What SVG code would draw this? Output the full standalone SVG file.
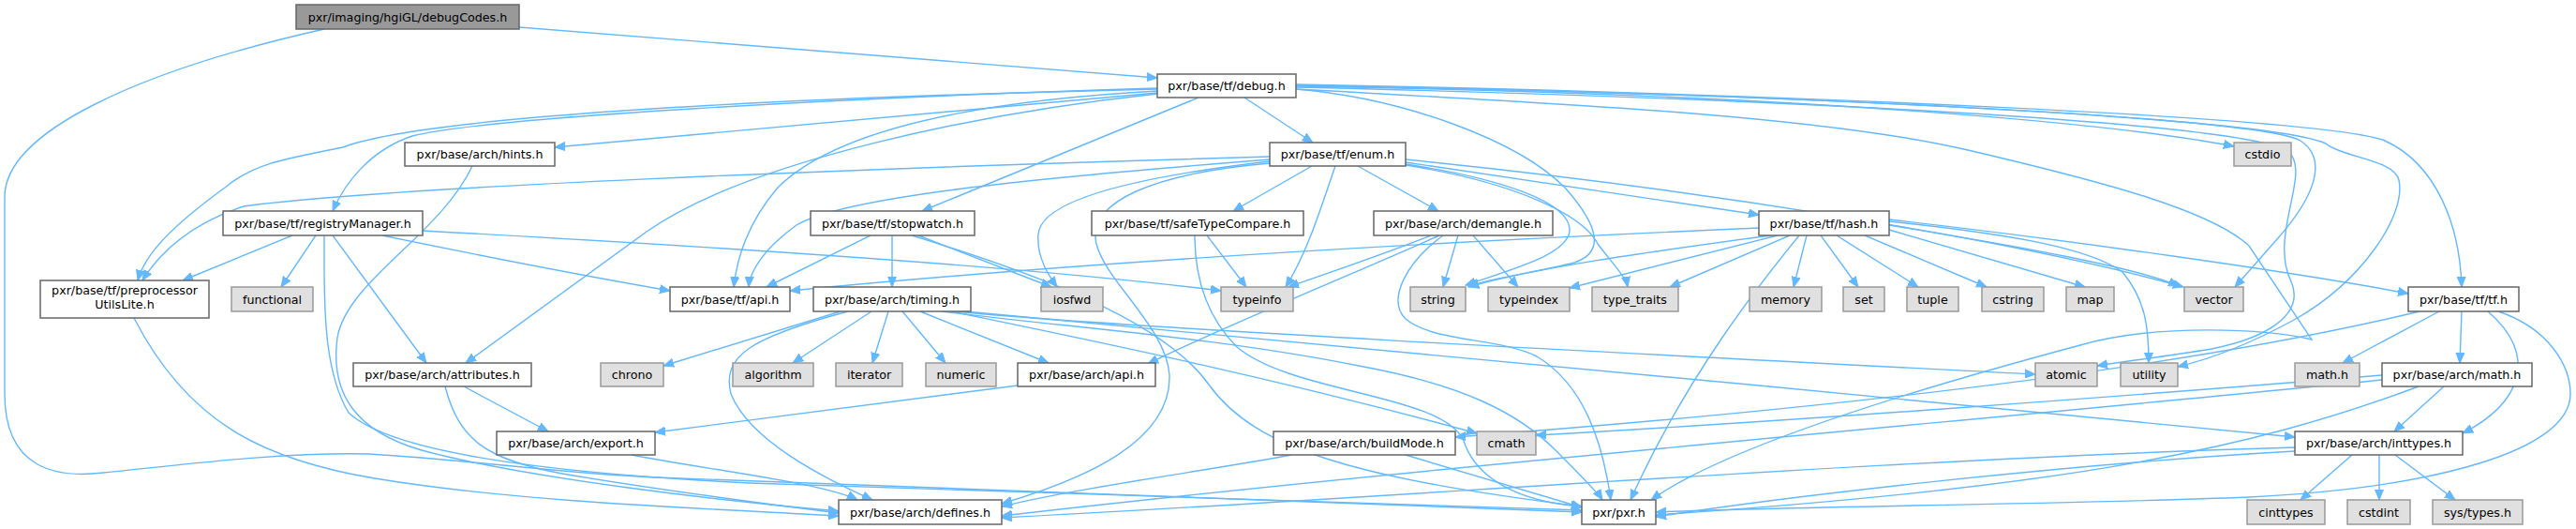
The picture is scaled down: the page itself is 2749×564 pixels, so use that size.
<svg xmlns="http://www.w3.org/2000/svg" width="2749" height="564" viewBox="0 0 2749 564">
<style>
.e{fill:none;stroke:#63b8ff;stroke-width:1.4;marker-end:url(#a)}
.n rect{fill:#fff;stroke:#666;stroke-width:1.5}
.g rect{fill:#e0e0e0;stroke:#999;stroke-width:1.5}
.r rect{fill:#999;stroke:#666;stroke-width:1.5}
text{font-family:"DejaVu Sans","Liberation Sans",sans-serif;font-size:12.7px;fill:#000;text-anchor:middle}
</style>
<defs>
<marker id="a" markerWidth="12" markerHeight="10" refX="11" refY="5" orient="auto" markerUnits="userSpaceOnUse"><path d="M0,0.5 L11,5 L0,9.5 z" fill="#63b8ff" stroke="#63b8ff" stroke-width="1"/></marker>
</defs>
<rect width="2749" height="564" fill="#fff"/>
<g id="edges">
<path class="e" d="M554,29 L1235,83"/>
<path class="e" d="M346,31 C150,75 5,140 5,210 L5,420 C5,500 60,510 110,504 C200,495 300,482 393,484 C500,490 600,505 700,509 C1000,520 1400,535 1688,546"/>
<path class="e" d="M1235,99 L592,157"/>
<path class="e" d="M1235,94 C900,104 520,125 440,145 C395,160 368,195 355,225"/>
<path class="e" d="M1235,95 C800,105 450,125 366,157 C300,170 270,175 240,200 C185,240 155,270 147,299"/>
<path class="e" d="M1235,100 C1050,120 800,170 690,247 L497,387"/>
<path class="e" d="M1235,97 C1000,110 880,150 830,200 C800,235 787,270 783,306"/>
<path class="e" d="M1279,104 L984,225"/>
<path class="e" d="M1328,104 L1401,152"/>
<path class="e" d="M1383,92 C1900,100 2250,130 2384,156"/>
<path class="e" d="M1383,90 C1900,100 2480,125 2545,150 C2600,175 2625,240 2627,306"/>
<path class="e" d="M1383,91 C1900,100 2410,125 2455,150 C2485,170 2470,210 2430,255 L2385,306"/>
<path class="e" d="M1383,91 C1900,100 2420,125 2482,153 C2500,168 2555,170 2560,192 C2568,230 2520,300 2450,340 C2410,362 2370,380 2324,391"/>
<path class="e" d="M1383,93 C1900,105 2380,130 2440,160 C2470,180 2420,250 2445,300 C2460,335 2420,360 2360,372 C2310,380 2270,385 2238,390"/>
<path class="e" d="M1383,95 C1700,112 1950,125 2100,160 C2250,195 2360,225 2400,262 L2467,362 C2420,350 2300,345 2220,368 C2100,400 1850,470 1762,533"/>
<path class="e" d="M1383,95 C1500,105 1620,150 1670,200 C1710,245 1710,270 1680,280 C1640,290 1600,295 1567,305"/>
<path class="e" d="M1355,167 C900,180 400,200 260,220 C200,240 170,270 152,299"/>
<path class="e" d="M1355,170 C1100,190 900,210 850,240 C815,265 800,290 799,306"/>
<path class="e" d="M1355,172 C1200,190 1110,215 1108,250 C1106,275 1120,295 1128,306"/>
<path class="e" d="M1355,174 C1230,185 1160,215 1170,260 C1180,300 1245,350 1248,400 C1250,470 1160,510 1069,537"/>
<path class="e" d="M1400,177 L1316,225"/>
<path class="e" d="M1449,177 L1535,225"/>
<path class="e" d="M1500,173 L1877,229"/>
<path class="e" d="M1500,175 C1600,190 1675,215 1675,245 C1675,270 1620,285 1564,304"/>
<path class="e" d="M1500,176 C1620,195 1690,230 1705,260 C1720,280 1735,295 1737,306"/>
<path class="e" d="M1500,170 C1800,200 2150,255 2330,306"/>
<path class="e" d="M1425,177 C1410,220 1395,270 1372,306"/>
<path class="e" d="M312,251 L195,299"/>
<path class="e" d="M337,251 L300,306"/>
<path class="e" d="M346,251 L346,282 C346,340 348,400 372,440 C420,485 600,505 800,515 C1200,530 1500,538 1688,544"/>
<path class="e" d="M355,251 L455,387"/>
<path class="e" d="M408,251 C500,270 600,290 715,310"/>
<path class="e" d="M451,246 C800,265 1100,285 1303,310"/>
<path class="e" d="M504,177 C470,250 370,300 360,360 C352,420 380,460 450,480 C560,510 780,535 895,545"/>
<path class="e" d="M495,412 L585,460"/>
<path class="e" d="M475,412 C490,470 520,490 600,505 C700,522 800,535 895,547"/>
<path class="e" d="M143,339 C200,450 280,490 400,510 C550,535 750,542 895,550"/>
<path class="e" d="M674,485 C750,500 880,515 915,533"/>
<path class="e" d="M1086,411 L699,461"/>
<path class="e" d="M929,251 L818,306"/>
<path class="e" d="M952,251 L952,306"/>
<path class="e" d="M980,251 L1122,306"/>
<path class="e" d="M973,251 C1100,290 1240,340 1290,410 C1340,480 1450,510 1688,540"/>
<path class="e" d="M897,332 L708,390"/>
<path class="e" d="M905,332 C800,360 770,380 780,420 C800,470 880,510 931,533"/>
<path class="e" d="M930,332 L846,387"/>
<path class="e" d="M948,332 L931,387"/>
<path class="e" d="M963,332 L1009,387"/>
<path class="e" d="M982,332 L1119,387"/>
<path class="e" d="M1020,332 C1200,350 1800,380 2172,399"/>
<path class="e" d="M1030,332 C1300,360 2000,420 2449,466"/>
<path class="e" d="M1015,332 C1150,360 1350,400 1576,462"/>
<path class="e" d="M1005,332 C1150,350 1300,360 1450,390 C1560,410 1620,440 1660,480 C1690,510 1705,525 1710,533"/>
<path class="e" d="M1288,251 L1330,306"/>
<path class="e" d="M1275,251 C1275,300 1290,340 1320,370 C1380,420 1540,420 1562,470 C1575,510 1620,535 1688,540"/>
<path class="e" d="M1527,251 C1480,270 1420,290 1375,306"/>
<path class="e" d="M1536,251 C1450,290 1300,350 1225,388"/>
<path class="e" d="M1540,251 C1500,280 1480,320 1500,340 C1530,365 1600,360 1640,380 C1690,410 1710,470 1719,533"/>
<path class="e" d="M1556,251 L1540,306"/>
<path class="e" d="M1572,251 L1620,306"/>
<path class="e" d="M1877,243 C1600,255 1200,275 843,310"/>
<path class="e" d="M1889,251 C1750,270 1640,285 1567,306"/>
<path class="e" d="M1897,251 L1675,307"/>
<path class="e" d="M1910,251 L1782,306"/>
<path class="e" d="M1920,251 C1880,300 1800,400 1740,533"/>
<path class="e" d="M1928,251 L1914,306"/>
<path class="e" d="M1943,251 L1983,306"/>
<path class="e" d="M1960,251 L2047,306"/>
<path class="e" d="M1990,251 L2120,306"/>
<path class="e" d="M2016,245 L2225,306"/>
<path class="e" d="M2016,240 C2150,262 2280,285 2325,305"/>
<path class="e" d="M2016,236 C2150,250 2230,265 2265,290 C2290,320 2293,350 2293,387"/>
<path class="e" d="M2016,234 C2200,255 2450,290 2570,313"/>
<path class="e" d="M2582,332 C2300,400 1900,440 1553,466"/>
<path class="e" d="M2666,332 C2720,350 2743,390 2743,420 C2743,480 2600,520 2400,530 C2200,538 1900,540 1767,546"/>
<path class="e" d="M2603,332 L2500,387"/>
<path class="e" d="M2627,332 L2625,387"/>
<path class="e" d="M2655,332 C2710,380 2690,430 2628,462"/>
<path class="e" d="M2608,412 L2555,460"/>
<path class="e" d="M2542,400 C2300,420 1900,450 1639,464"/>
<path class="e" d="M2542,405 C2200,440 1500,500 1069,550"/>
<path class="e" d="M2581,412 C2400,480 2200,520 1767,549"/>
<path class="e" d="M2510,485 L2455,533"/>
<path class="e" d="M2539,485 L2539,533"/>
<path class="e" d="M2556,485 L2620,533"/>
<path class="e" d="M2449,477 C2000,490 1500,530 1069,552"/>
<path class="e" d="M2449,481 C2200,495 1900,530 1767,551"/>
<path class="e" d="M1500,485 L1688,541"/>
<path class="e" d="M1378,485 C1300,500 1150,520 1069,540"/>
</g>
<g id="n0" class="r"><rect x="316" y="5" width="238" height="26"/><text x="435" y="22.5">pxr/imaging/hgiGL/debugCodes.h</text></g>
<g id="n1" class="n"><rect x="1235" y="79" width="148" height="25"/><text x="1309" y="96">pxr/base/tf/debug.h</text></g>
<g id="n2" class="n"><rect x="432" y="152" width="160" height="25"/><text x="512" y="169">pxr/base/arch/hints.h</text></g>
<g id="n3" class="n"><rect x="1355" y="152" width="145" height="25"/><text x="1427.5" y="169">pxr/base/tf/enum.h</text></g>
<g id="n4" class="g"><rect x="2384" y="152" width="61" height="25"/><text x="2414.5" y="169">cstdio</text></g>
<g id="n5" class="n"><rect x="238" y="225" width="213" height="26"/><text x="344.5" y="242.5">pxr/base/tf/registryManager.h</text></g>
<g id="n6" class="n"><rect x="865" y="225" width="175" height="26"/><text x="952.5" y="242.5">pxr/base/tf/stopwatch.h</text></g>
<g id="n7" class="n"><rect x="1165" y="225" width="226" height="26"/><text x="1278" y="242.5">pxr/base/tf/safeTypeCompare.h</text></g>
<g id="n8" class="n"><rect x="1466" y="225" width="191" height="26"/><text x="1561.5" y="242.5">pxr/base/arch/demangle.h</text></g>
<g id="n9" class="n"><rect x="1877" y="225" width="139" height="26"/><text x="1946.5" y="242.5">pxr/base/tf/hash.h</text></g>
<g id="n10" class="n"><rect x="43" y="299" width="180" height="40"/><text x="133" y="314">pxr/base/tf/preprocessor</text><text x="133" y="328.5">UtilsLite.h</text></g>
<g id="n11" class="g"><rect x="247" y="306" width="87" height="26"/><text x="290.5" y="323.5">functional</text></g>
<g id="n12" class="n"><rect x="715" y="306" width="128" height="26"/><text x="779" y="323.5">pxr/base/tf/api.h</text></g>
<g id="n13" class="n"><rect x="868" y="306" width="168" height="26"/><text x="952" y="323.5">pxr/base/arch/timing.h</text></g>
<g id="n14" class="g"><rect x="1111" y="306" width="66" height="26"/><text x="1144" y="323.5">iosfwd</text></g>
<g id="n15" class="g"><rect x="1303" y="306" width="77" height="26"/><text x="1341.5" y="323.5">typeinfo</text></g>
<g id="n16" class="g"><rect x="1505" y="306" width="59" height="26"/><text x="1534.5" y="323.5">string</text></g>
<g id="n17" class="g"><rect x="1588" y="306" width="87" height="26"/><text x="1631.5" y="323.5">typeindex</text></g>
<g id="n18" class="g"><rect x="1699" y="306" width="92" height="26"/><text x="1745" y="323.5">type_traits</text></g>
<g id="n19" class="g"><rect x="1867" y="306" width="77" height="26"/><text x="1905.5" y="323.5">memory</text></g>
<g id="n20" class="g"><rect x="1967" y="306" width="44" height="26"/><text x="1989" y="323.5">set</text></g>
<g id="n21" class="g"><rect x="2035" y="306" width="55" height="26"/><text x="2062.5" y="323.5">tuple</text></g>
<g id="n22" class="g"><rect x="2115" y="306" width="66" height="26"/><text x="2148" y="323.5">cstring</text></g>
<g id="n23" class="g"><rect x="2205" y="306" width="51" height="26"/><text x="2230.5" y="323.5">map</text></g>
<g id="n24" class="g"><rect x="2331" y="306" width="63" height="26"/><text x="2362.5" y="323.5">vector</text></g>
<g id="n25" class="n"><rect x="2570" y="306" width="118" height="26"/><text x="2629" y="323.5">pxr/base/tf/tf.h</text></g>
<g id="n26" class="n"><rect x="377" y="387" width="190" height="25"/><text x="472" y="404">pxr/base/arch/attributes.h</text></g>
<g id="n27" class="g"><rect x="641" y="387" width="67" height="25"/><text x="674.5" y="404">chrono</text></g>
<g id="n28" class="g"><rect x="782" y="387" width="86" height="25"/><text x="825" y="404">algorithm</text></g>
<g id="n29" class="g"><rect x="892" y="387" width="71" height="25"/><text x="927.5" y="404">iterator</text></g>
<g id="n30" class="g"><rect x="988" y="387" width="75" height="25"/><text x="1025.5" y="404">numeric</text></g>
<g id="n31" class="n"><rect x="1086" y="387" width="147" height="25"/><text x="1159.5" y="404">pxr/base/arch/api.h</text></g>
<g id="n32" class="g"><rect x="2172" y="387" width="66" height="25"/><text x="2205" y="404">atomic</text></g>
<g id="n33" class="g"><rect x="2263" y="387" width="61" height="25"/><text x="2293.5" y="404">utility</text></g>
<g id="n34" class="g"><rect x="2449" y="387" width="69" height="25"/><text x="2483.5" y="404">math.h</text></g>
<g id="n35" class="n"><rect x="2542" y="387" width="160" height="25"/><text x="2622" y="404">pxr/base/arch/math.h</text></g>
<g id="n36" class="n"><rect x="530" y="460" width="169" height="25"/><text x="614.5" y="477">pxr/base/arch/export.h</text></g>
<g id="n37" class="n"><rect x="1359" y="460" width="194" height="25"/><text x="1456" y="477">pxr/base/arch/buildMode.h</text></g>
<g id="n38" class="g"><rect x="1576" y="460" width="63" height="25"/><text x="1607.5" y="477">cmath</text></g>
<g id="n39" class="n"><rect x="2449" y="460" width="179" height="25"/><text x="2538.5" y="477">pxr/base/arch/inttypes.h</text></g>
<g id="n40" class="n"><rect x="895" y="533" width="174" height="26"/><text x="982" y="550.5">pxr/base/arch/defines.h</text></g>
<g id="n41" class="n"><rect x="1688" y="533" width="79" height="26"/><text x="1727.5" y="550.5">pxr/pxr.h</text></g>
<g id="n42" class="g"><rect x="2398" y="533" width="83" height="26"/><text x="2439.5" y="550.5">cinttypes</text></g>
<g id="n43" class="g"><rect x="2505" y="533" width="67" height="26"/><text x="2538.5" y="550.5">cstdint</text></g>
<g id="n44" class="g"><rect x="2596" y="533" width="96" height="26"/><text x="2644" y="550.5">sys/types.h</text></g>
</svg>
